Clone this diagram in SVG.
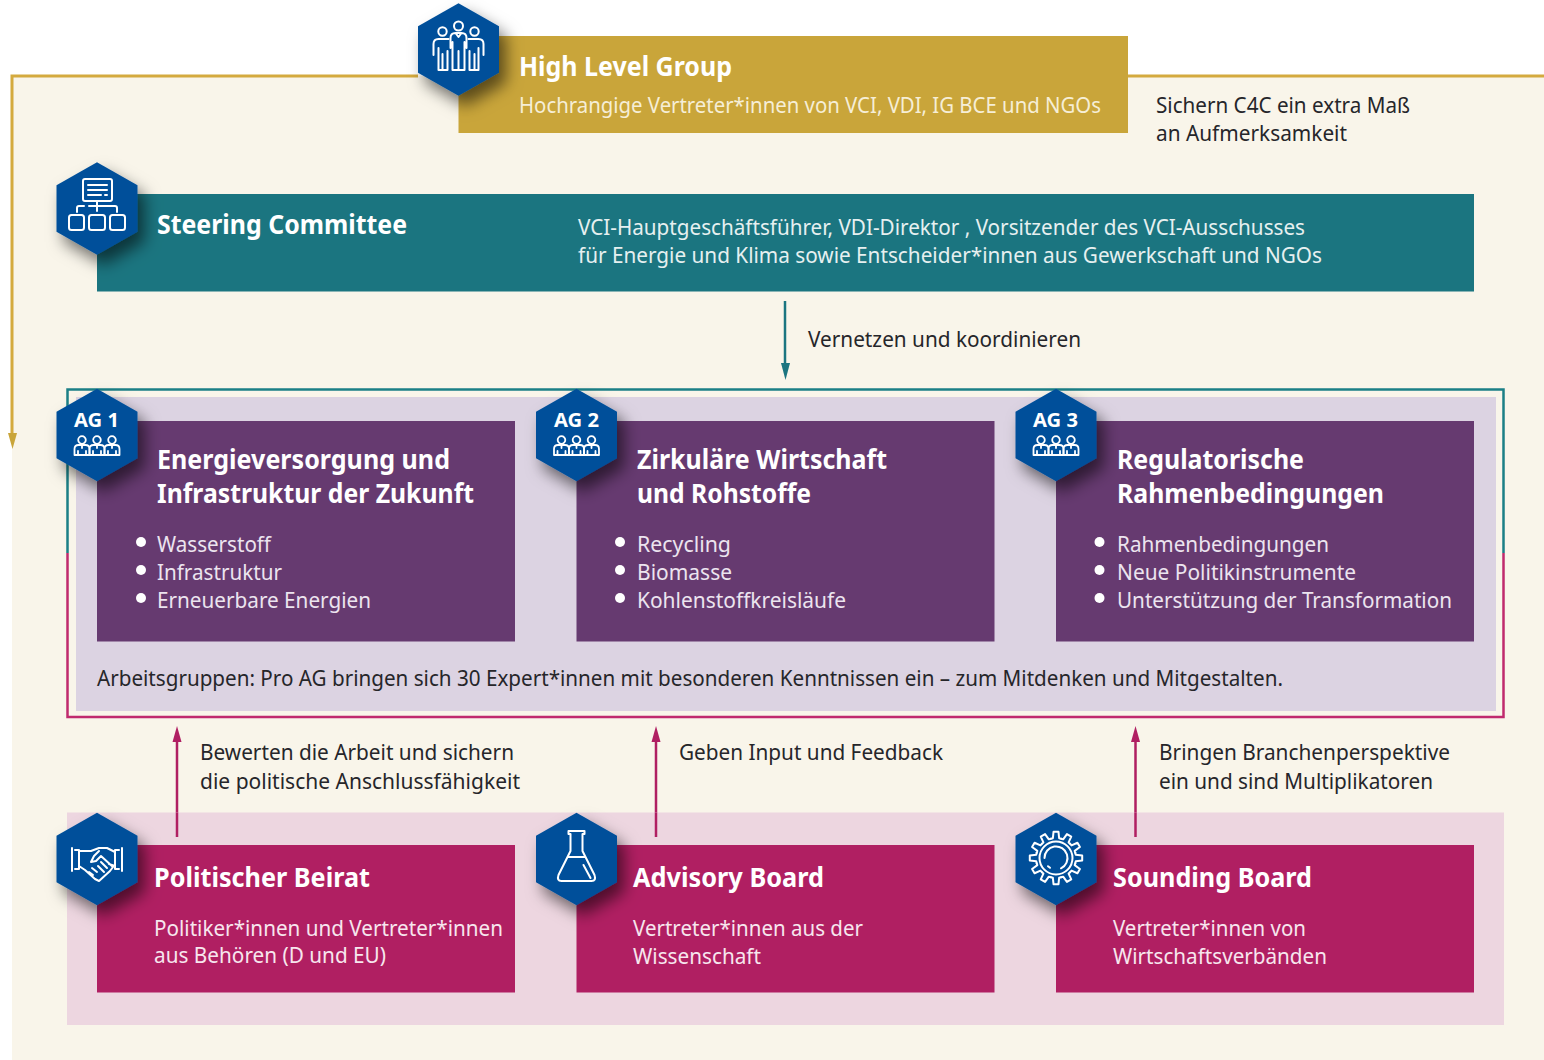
<svg xmlns="http://www.w3.org/2000/svg" width="1544" height="1060" viewBox="0 0 1544 1060">
<style>
text{font-family:"Noto Sans","Open Sans","Liberation Sans",sans-serif;}
.b{font-weight:700;fill:#fff;font-size:26px}
.w{fill:#fff;font-size:21.5px}
.l{fill:#ece4ef;font-size:21.5px}
.g{fill:#f6eed6;font-size:21.5px}
.d{fill:#26262a;font-size:21.5px}
.p{fill:#f7e6ee;font-size:21.5px}
.t{fill:#e6f0f0;font-size:21.5px}
.ag{font-weight:700;fill:#fff;font-size:20px}
.hex{fill:#03509a;filter:url(#sh)}
.ic{fill:none;stroke:#fff;stroke-width:2;stroke-linecap:round;stroke-linejoin:round}
.gold{fill:#c9a53a}.teal{fill:#1b7580}.purple{fill:#663a70}.mag{fill:#b01f62}
.cn{fill:none;stroke-width:2.5}
</style>
<defs>
<filter id="sh" x="-40%" y="-30%" width="200%" height="170%"><feDropShadow dx="7" dy="10" stdDeviation="8" flood-color="#000" flood-opacity="0.55"/></filter>
<polygon id="hx" points="0,-46.3 40.5,-23.2 40.5,23.2 0,46.3 -40.5,23.2 -40.5,-23.2"/>
<g id="bust"><circle cx="0" cy="-6" r="3.8"/><path d="M-7.500,9V3Q-7.500,-1 -3.500,-1H3.500Q7.500,-1 7.500,3V9Z"/><path d="M0,-1V2M-4,9V5M4,9V5"/></g>
<g id="busts" class="ic" style="stroke-width:1.800"><use href="#bust" x="-15"/><use href="#bust"/><use href="#bust" x="15"/></g>
<path id="tooth" d="M-5.180,-19.320L-3.130,-19.750L-2.490,-26.200L2.490,-26.200L3.130,-19.750L5.180,-19.320"/>
</defs>
<rect id="background" x="12" y="76" width="1532" height="984" fill="#f9f5ea"/>
<g id="connectors">
<path class="cn" d="M1128,76H1544M418,76H12V436" stroke="#d4aa3e" style="stroke-width:3"/>
<polygon points="8,433 17,433 12.5,449" fill="#c9a53a"/>
<path class="cn" d="M785,301V366" stroke="#1b7580"/>
<polygon points="781,363 790,363 785.5,380" fill="#1b7580"/>
<path class="cn" d="M177,837V740M656,837V740M1135.500,837V740" stroke="#b01f62"/>
<polygon points="172.500,742 181.500,742 177,726" fill="#b01f62"/>
<polygon points="651.500,742 660.500,742 656,726" fill="#b01f62"/>
<polygon points="1131,742 1140,742 1135.500,726" fill="#b01f62"/>
<path class="cn" d="M67.500,553V389.500H1503.500V553" stroke="#1b7f86"/>
<path class="cn" d="M67.500,553V717H1503.500V553" stroke="#c02a6e"/>
</g>
<g id="label-vernetzen"><text class="d" x="808" y="347" textLength="273" lengthAdjust="spacingAndGlyphs">Vernetzen und koordinieren</text></g>
<g id="label-sichern"><text class="d" x="1156" y="113" textLength="254" lengthAdjust="spacingAndGlyphs">Sichern C4C ein extra Maß</text><text class="d" x="1156" y="141" textLength="191" lengthAdjust="spacingAndGlyphs">an Aufmerksamkeit</text></g>
<g id="high-level-group">
<rect class="gold" x="458.500" y="36" width="669.500" height="97"/>
<use href="#hx" class="hex" x="458.500" y="49.500"/>
<g class="ic" transform="translate(458.500,48)"><circle cy="-22" r="4.500"/><path d="M-8,0V-10Q-8,-15 -3,-15H3Q8,-15 8,-10V0M-6,-6V22H6V-6M0,3V22M-3,-15L0,-11L3,-15"/><circle cx="-16" cy="-16.500" r="4.200"/><path d="M-25,7V-4Q-25,-9 -20,-9H-10M-20,0V22H-11V3M-16,6V22"/><circle cx="16" cy="-16.500" r="4.200"/><path d="M25,7V-4Q25,-9 20,-9H10M20,0V22H11V3M16,6V22"/></g>
<text class="b" x="519" y="76" textLength="213" lengthAdjust="spacingAndGlyphs">High Level Group</text>
<text class="g" x="519" y="113" textLength="582" lengthAdjust="spacingAndGlyphs">Hochrangige Vertreter*innen von VCI, VDI, IG BCE und NGOs</text>
</g>
<g id="steering-committee">
<rect class="teal" x="97" y="194" width="1377" height="97.500"/>
<use href="#hx" class="hex" x="97" y="208.500"/>
<g class="ic" transform="translate(97,208)"><rect x="-14" y="-29" width="29" height="22" rx="2"/><path d="M-9,-23H10M-9,-18H10M-9,-13H4M8,-13H10M0,-7V3M-20,4V0Q-20,-2 -18,-2H-13M-8,-2H18Q20,-2 20,0V4"/><rect x="-28" y="7" width="15" height="15" rx="2.500"/><rect x="-8" y="7" width="16" height="15" rx="2.500"/><rect x="13" y="7" width="15" height="15" rx="2.500"/></g>
<text class="b" x="157" y="234" textLength="250" lengthAdjust="spacingAndGlyphs">Steering Committee</text>
<text class="t" x="578" y="235" textLength="727" lengthAdjust="spacingAndGlyphs">VCI-Hauptgeschäftsführer, VDI-Direktor , Vorsitzender des VCI-Ausschusses</text>
<text class="t" x="578" y="263" textLength="744" lengthAdjust="spacingAndGlyphs">für Energie und Klima sowie Entscheider*innen aus Gewerkschaft und NGOs</text>
</g>
<g id="arbeitsgruppen">
<rect x="76" y="397" width="1420" height="314" fill="#dcd3e2"/>
<text class="d" x="97" y="686" textLength="1186" lengthAdjust="spacingAndGlyphs">Arbeitsgruppen: Pro AG bringen sich 30 Expert*innen mit besonderen Kenntnissen ein – zum Mitdenken und Mitgestalten.</text>
</g>
<g id="ag1">
<rect class="purple" x="97" y="421" width="418" height="220.500"/>
<use href="#hx" class="hex" x="97" y="435"/>
<text class="ag" x="74" y="427" textLength="45" lengthAdjust="spacingAndGlyphs">AG 1</text>
<use href="#busts" x="97" y="446"/>
<text class="b" x="157" y="469" textLength="293" lengthAdjust="spacingAndGlyphs">Energieversorgung und</text>
<text class="b" x="157" y="503" textLength="317" lengthAdjust="spacingAndGlyphs">Infrastruktur der Zukunft</text>
<g fill="#fff"><circle cx="141" cy="542" r="5"/><circle cx="141" cy="570" r="5"/><circle cx="141" cy="598" r="5"/></g>
<text class="l" x="157" y="552" textLength="114" lengthAdjust="spacingAndGlyphs">Wasserstoff</text>
<text class="l" x="157" y="580" textLength="125" lengthAdjust="spacingAndGlyphs">Infrastruktur</text>
<text class="l" x="157" y="608" textLength="214" lengthAdjust="spacingAndGlyphs">Erneuerbare Energien</text>
</g>
<g id="ag2">
<rect class="purple" x="576.500" y="421" width="418" height="220.500"/>
<use href="#hx" class="hex" x="576.500" y="435"/>
<text class="ag" x="554" y="427" textLength="45" lengthAdjust="spacingAndGlyphs">AG 2</text>
<use href="#busts" x="576.500" y="446"/>
<text class="b" x="637" y="469" textLength="250" lengthAdjust="spacingAndGlyphs">Zirkuläre Wirtschaft</text>
<text class="b" x="637" y="503" textLength="174" lengthAdjust="spacingAndGlyphs">und Rohstoffe</text>
<g fill="#fff"><circle cx="620" cy="542" r="5"/><circle cx="620" cy="570" r="5"/><circle cx="620" cy="598" r="5"/></g>
<text class="l" x="637" y="552" textLength="94" lengthAdjust="spacingAndGlyphs">Recycling</text>
<text class="l" x="637" y="580" textLength="95" lengthAdjust="spacingAndGlyphs">Biomasse</text>
<text class="l" x="637" y="608" textLength="209" lengthAdjust="spacingAndGlyphs">Kohlenstoffkreisläufe</text>
</g>
<g id="ag3">
<rect class="purple" x="1056" y="421" width="418" height="220.500"/>
<use href="#hx" class="hex" x="1056" y="435"/>
<text class="ag" x="1033" y="427" textLength="45" lengthAdjust="spacingAndGlyphs">AG 3</text>
<use href="#busts" x="1056" y="446"/>
<text class="b" x="1117" y="469" textLength="187" lengthAdjust="spacingAndGlyphs">Regulatorische</text>
<text class="b" x="1117" y="503" textLength="267" lengthAdjust="spacingAndGlyphs">Rahmenbedingungen</text>
<g fill="#fff"><circle cx="1099.500" cy="542" r="5"/><circle cx="1099.500" cy="570" r="5"/><circle cx="1099.500" cy="598" r="5"/></g>
<text class="l" x="1117" y="552" textLength="212" lengthAdjust="spacingAndGlyphs">Rahmenbedingungen</text>
<text class="l" x="1117" y="580" textLength="239" lengthAdjust="spacingAndGlyphs">Neue Politikinstrumente</text>
<text class="l" x="1117" y="608" textLength="335" lengthAdjust="spacingAndGlyphs">Unterstützung der Transformation</text>
</g>
<g id="labels-feedback">
<text class="d" x="200" y="760" textLength="314" lengthAdjust="spacingAndGlyphs">Bewerten die Arbeit und sichern</text>
<text class="d" x="200" y="789" textLength="320" lengthAdjust="spacingAndGlyphs">die politische Anschlussfähigkeit</text>
<text class="d" x="679" y="760" textLength="264" lengthAdjust="spacingAndGlyphs">Geben Input und Feedback</text>
<text class="d" x="1159" y="760" textLength="291" lengthAdjust="spacingAndGlyphs">Bringen Branchenperspektive</text>
<text class="d" x="1159" y="789" textLength="274" lengthAdjust="spacingAndGlyphs">ein und sind Multiplikatoren</text>
</g>
<rect id="board-panel" x="67" y="812.500" width="1437" height="212.500" fill="#edd6e0"/>
<path class="cn" d="M177,812.500V837M656,812.500V837M1135.500,812.500V837" stroke="#b01f62"/>
<g id="politischer-beirat">
<rect class="mag" x="97" y="845" width="418" height="147.500"/>
<use href="#hx" class="hex" x="97" y="859"/>
<g class="ic" transform="translate(97,859)"><path d="M-22,-9H-18V10H-22M-25,-11V12M22,-9H18V10H22M25,-11V12M-18,-8H-6L2,-11H10L18,-7M18,7L12,5M-18,7L-12,11L-2,20L2,22L13,12L16,8L4,-3L-1,2L-6,3L-3,-3L2,-8M-8,13L-4,16M-5,9L0,13M4,3L10,9M1,7L7,13"/></g>
<text class="b" x="154" y="887" textLength="216" lengthAdjust="spacingAndGlyphs">Politischer Beirat</text>
<text class="p" x="154" y="936" textLength="349" lengthAdjust="spacingAndGlyphs">Politiker*innen und Vertreter*innen</text>
<text class="p" x="154" y="963" textLength="232" lengthAdjust="spacingAndGlyphs">aus Behören (D und EU)</text>
</g>
<g id="advisory-board">
<rect class="mag" x="576.500" y="845" width="418" height="147.500"/>
<use href="#hx" class="hex" x="576.500" y="859"/>
<g class="ic" transform="translate(576.500,859)"><path d="M-8,-28H8V-25H6V-8L18,16Q20,22 15,22H-15Q-20,22 -18,16L-6,-8V-25H-8ZM-9,-2H9M7,6L14,19"/></g>
<text class="b" x="633" y="887" textLength="191" lengthAdjust="spacingAndGlyphs">Advisory Board</text>
<text class="p" x="633" y="936" textLength="230" lengthAdjust="spacingAndGlyphs">Vertreter*innen aus der</text>
<text class="p" x="633" y="964" textLength="128" lengthAdjust="spacingAndGlyphs">Wissenschaft</text>
</g>
<g id="sounding-board">
<rect class="mag" x="1056" y="845" width="418" height="147.500"/>
<use href="#hx" class="hex" x="1056" y="859"/>
<g class="ic" transform="translate(1056,858)">
<circle r="16.500"/><path d="M-11.500,0A11.500,11.500 0 1 1 5,10.300M-8,8.200L-6,9.800"/>
<use href="#tooth"/><use href="#tooth" transform="rotate(30)"/><use href="#tooth" transform="rotate(60)"/><use href="#tooth" transform="rotate(90)"/><use href="#tooth" transform="rotate(120)"/><use href="#tooth" transform="rotate(150)"/><use href="#tooth" transform="rotate(180)"/><use href="#tooth" transform="rotate(210)"/><use href="#tooth" transform="rotate(240)"/><use href="#tooth" transform="rotate(270)"/><use href="#tooth" transform="rotate(300)"/><use href="#tooth" transform="rotate(330)"/>
</g>
<text class="b" x="1113" y="887" textLength="199" lengthAdjust="spacingAndGlyphs">Sounding Board</text>
<text class="p" x="1113" y="936" textLength="193" lengthAdjust="spacingAndGlyphs">Vertreter*innen von</text>
<text class="p" x="1113" y="964" textLength="214" lengthAdjust="spacingAndGlyphs">Wirtschaftsverbänden</text>
</g>
</svg>
